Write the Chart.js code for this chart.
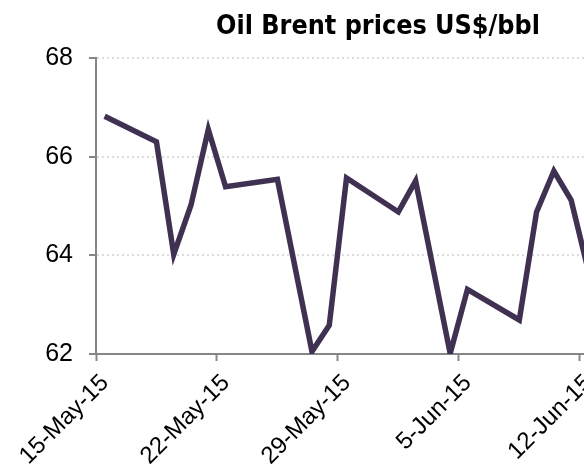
<!DOCTYPE html>
<html>
<head>
<meta charset="utf-8">
<script src="https://cdn.jsdelivr.net/npm/chart.js@4/dist/chart.umd.min.js"></script>
<style>
  html, body { margin: 0; padding: 0; background: #fff; overflow: hidden; }
  #wrap { width: 584px; height: 467px; overflow: hidden; position: relative; }
  #box { position: absolute; left: 0; top: 0; width: 773px; height: 467px; }
</style>
</head>
<body>
<div id="wrap"><div id="box"><canvas id="chart"></canvas></div></div>
<script>
// Brent daily closes (trading days only)
const dates = ['2015-05-15', '2015-05-18', '2015-05-19', '2015-05-20', '2015-05-21', '2015-05-22',
               '2015-05-25', '2015-05-27', '2015-05-28', '2015-05-29',
               '2015-06-01', '2015-06-02', '2015-06-04', '2015-06-05',
               '2015-06-08', '2015-06-09', '2015-06-10', '2015-06-11', '2015-06-12'];
const prices = [66.82, 66.30, 64.02, 65.02, 66.55, 65.39,
                65.54, 62.05, 62.58, 65.57,
                64.88, 65.51, 62.01, 63.31,
                62.69, 64.88, 65.71, 65.12, 63.68];
const tickLabels = ['15-May-15', '22-May-15', '29-May-15', '5-Jun-15', '12-Jun-15'];
const yTicks = [62, 64, 66, 68];

const DAY = 86400000;
const start = Date.parse(dates[0]);
// each trading day sits in the middle of its calendar-day slot
const points = dates.map((d, i) => ({ x: (Date.parse(d) - start) / DAY + 0.5, y: prices[i] }));

const axisColor = '#868686';
const fontFamily = '"Liberation Sans Narrow", "Liberation Sans", sans-serif';

new Chart(document.getElementById('chart'), {
    type: 'line',
    data: {
        datasets: [{
            label: 'Oil Brent',
            data: points,
            borderColor: '#403152',
            borderWidth: 5.5,
            pointRadius: 0,
            tension: 0,
            borderJoinStyle: 'miter'
        }]
    },
    options: {
        responsive: true,
        maintainAspectRatio: false,
        animation: false,
        layout: { padding: { right: 17 } },
        plugins: {
            legend: { display: false },
            tooltip: { enabled: false },
            title: {
                display: true,
                text: 'Oil Brent prices US$/bbl',
                color: '#000',
                font: { family: '"DejaVu Sans Condensed", "DejaVu Sans", sans-serif', size: 26.7, weight: 'bold' },
                padding: { top: 11, bottom: 15 }
            }
        },
        scales: {
            x: {
                type: 'linear',
                min: 0,
                max: 38.2,
                afterFit: (scale) => { scale.height = 113; },
                afterBuildTicks: (scale) => {
                    scale.ticks = tickLabels.map((t, i) => ({ value: i * 7 }));
                },
                border: { display: true, color: axisColor, width: 2 },
                grid: { drawOnChartArea: false, drawTicks: true, tickLength: 7, tickColor: axisColor, tickWidth: 2 },
                ticks: {
                    minRotation: 45,
                    maxRotation: 45,
                    padding: 8,
                    labelOffset: 9,
                    color: '#000',
                    font: { family: fontFamily, size: 24 },
                    callback: (v) => tickLabels[Math.round(v / 7)] || ''
                }
            },
            y: {
                min: 62,
                max: 68,
                afterFit: (scale) => { scale.width = 96; },
                afterBuildTicks: (scale) => {
                    scale.ticks = yTicks.map(v => ({ value: v }));
                },
                border: { display: true, color: axisColor, width: 2, dash: [2, 3] },
                grid: {
                    color: '#dcdcdc',
                    lineWidth: 2,
                    tickLength: 7,
                    tickColor: axisColor,
                    tickWidth: 2,
                    tickBorderDash: []
                },
                ticks: {
                    padding: 16,
                    color: '#000',
                    font: { family: fontFamily, size: 25 }
                }
            }
        }
    }
});
</script>
</body>
</html>
